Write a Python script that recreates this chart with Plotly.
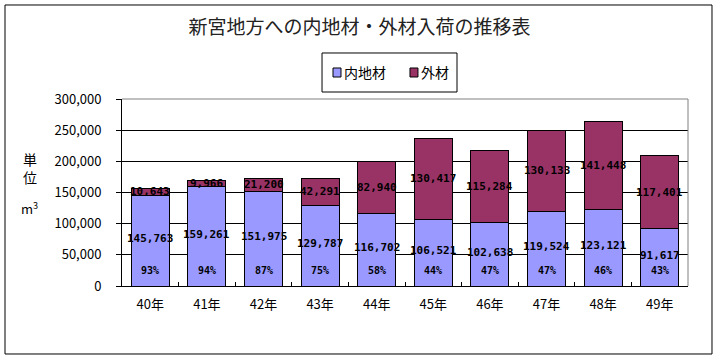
import plotly.graph_objects as go

categories = ["40年", "41年", "42年", "43年", "44年", "45年", "46年", "47年", "48年", "49年"]
domestic = [145763, 159261, 151975, 129787, 116702, 106521, 102638, 119524, 123121, 91617]
imported = [10643, 9966, 21200, 42291, 82940, 130417, 115284, 130133, 141448, 117401]
share_labels = ["93%", "94%", "87%", "75%", "58%", "44%", "47%", "47%", "46%", "43%"]
series_names = ["内地材", "外材"]
series_colors = ["#9999FF", "#993366"]
y_ticks = [0, 50000, 100000, 150000, 200000, 250000, 300000]
y_tick_labels = ["0", "50,000", "100,000", "150,000", "200,000", "250,000", "300,000"]

JP = "Noto Sans CJK JP, sans-serif"
MONO = "DejaVu Sans Mono, monospace"

fig = go.Figure()
for name, vals, col in zip(series_names, [domestic, imported], series_colors):
    fig.add_trace(go.Bar(x=categories, y=vals, name=name,
                         marker=dict(color=col, line=dict(color="black", width=1))))

annotations = []
for c, d, i, s in zip(categories, domestic, imported, share_labels):
    annotations.append(dict(x=c, y=d / 2, xref="x", yref="y", text=f"<b>{d:,}</b>",
                            showarrow=False, yshift=2,
                            font=dict(family=MONO, size=11, color="black")))
    annotations.append(dict(x=c, y=d + i / 2, xref="x", yref="y", text=f"<b>{i:,}</b>",
                            showarrow=False, font=dict(family=MONO, size=11, color="black")))
    annotations.append(dict(x=c, y=25000, xref="x", yref="y", text=f"<b>{s}</b>",
                            showarrow=False, font=dict(family=MONO, size=10, color="black")))

annotations.append(dict(x=-0.163, y=0.63, xref="paper", yref="paper", text="単<br>位",
                        showarrow=False, font=dict(family=JP, size=14, color="black"),
                        xanchor="center", yanchor="middle"))
annotations.append(dict(x=-0.163, y=0.415, xref="paper", yref="paper", text="m<sup>3</sup>",
                        showarrow=False, font=dict(family=JP, size=13, color="black"),
                        xanchor="center", yanchor="middle"))

shapes = [
    dict(type="rect", xref="paper", yref="paper", x0=-0.2067, x1=1.0424, y0=-0.3636, y1=1.5027,
         line=dict(color="black", width=1), layer="below"),
    dict(type="line", xref="paper", yref="paper", x0=0, x1=1, y0=1, y1=1,
         line=dict(color="#808080", width=1)),
    dict(type="line", xref="paper", yref="paper", x0=1, x1=1, y0=0, y1=1,
         line=dict(color="#808080", width=1)),
    # legend box
    dict(type="rect", xref="paper", yref="paper", x0=0.3534, x1=0.5919, y0=1.0374, y1=1.246,
         line=dict(color="black", width=1), fillcolor="white"),
]

# legend entries (swatch + label)
legend_x = [0.3728, 0.5088]
for name, col, lx in zip(series_names, series_colors, legend_x):
    shapes.append(dict(type="rect", xref="paper", yref="paper", x0=lx, x1=lx + 0.0141,
                       y0=1.1176, y1=1.1658, fillcolor=col, line=dict(color="black", width=1)))
    annotations.append(dict(x=lx + 0.0165, y=1.1444, xref="paper", yref="paper", text=name,
                            showarrow=False, xanchor="left", yanchor="middle",
                            font=dict(family=JP, size=14, color="black")))

fig.update_layout(
    width=719, height=360,
    margin=dict(l=122, r=31, t=99, b=74),
    paper_bgcolor="white", plot_bgcolor="white",
    barmode="stack", bargap=0.33,
    title=dict(text="新宮地方への内地材・外材入荷の推移表", x=0.5, xanchor="center",
               y=1 - 27 / 360, yref="container", yanchor="middle",
               font=dict(family=JP, size=19, color="#222222")),
    annotations=annotations,
    shapes=shapes,
    showlegend=False,
)
fig.update_xaxes(showline=True, linecolor="black", linewidth=1, ticks="inside",
                 tickson="boundaries", ticklen=4, tickcolor="black",
                 tickfont=dict(family=JP, size=13, color="black"), ticklabelstandoff=6)
fig.update_yaxes(range=[0, 300000], tickvals=y_ticks, ticktext=y_tick_labels,
                 showline=True, linecolor="black", linewidth=1,
                 showgrid=True, gridcolor="black", gridwidth=1,
                 ticks="outside", ticklen=5, tickcolor="black",
                 tickfont=dict(family=JP, size=13, color="black"), ticklabelstandoff=12,
                 zeroline=False)

fig.write_html("out.html", config={"displayModeBar": False},
               post_script="document.body.style.margin='0';document.body.style.padding='0';")
